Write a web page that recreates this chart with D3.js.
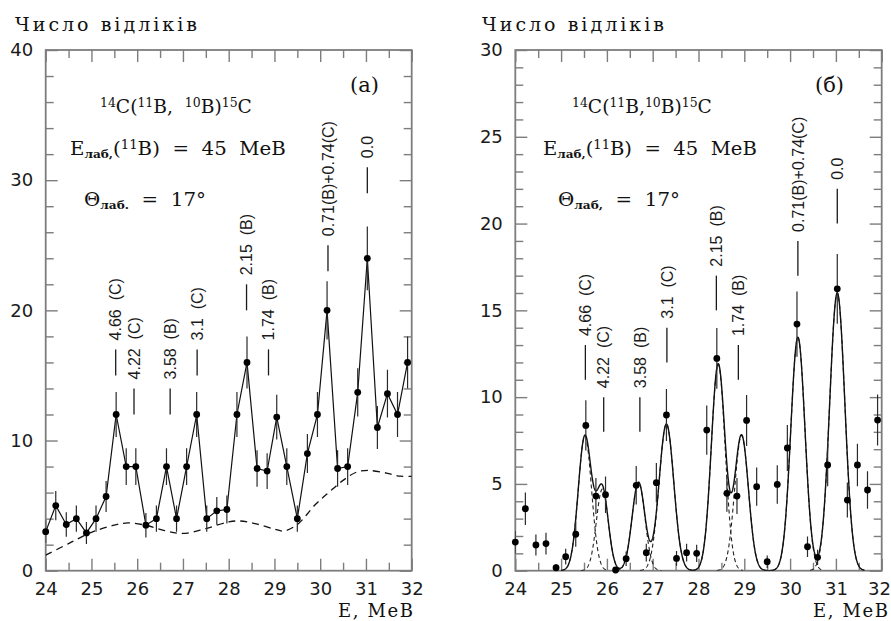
<!DOCTYPE html>
<html>
<head>
<meta charset="utf-8">
<script src="https://cdn.jsdelivr.net/npm/d3@7"></script>
<style>
  body { margin: 0; background: #fff; }
  svg { display: block; }
</style>
</head>
<body>
<svg id="chart" width="891" height="621"></svg>
<script>
// Channel energies, MeV (same binning in both spectra)
const energy = [24.0, 24.22, 24.45, 24.67, 24.89, 25.1, 25.32, 25.54, 25.76, 25.97,
  26.19, 26.42, 26.64, 26.86, 27.08, 27.3, 27.52, 27.74, 27.96, 28.18,
  28.4, 28.62, 28.84, 29.05, 29.27, 29.5, 29.72, 29.94, 30.15, 30.38,
  30.6, 30.82, 31.03, 31.25, 31.47, 31.69, 31.91];

// (a) measured counts and error half-lengths
const countsA = [3, 5, 3.55, 4, 2.9, 4, 5.7, 12, 8, 8,
  3.5, 4, 8, 4, 8, 12, 4, 4.6, 4.7, 12,
  16, 7.85, 7.65, 11.8, 8, 4, 9, 12, 20, 7.85,
  8, 13.7, 24, 11, 13.6, 12, 16];
const errA = [0.87, 1.12, 0.94, 1.0, 0.85, 1.0, 1.19, 1.73, 1.41, 1.41,
  0.94, 1.0, 1.41, 1.0, 1.41, 1.73, 1.0, 1.07, 1.08, 1.73,
  2.0, 1.4, 1.38, 1.72, 1.41, 1.0, 1.5, 1.73, 2.24, 1.4,
  1.41, 1.85, 2.45, 1.66, 1.84, 1.73, 2.0];

// (a) background estimate (dashed)
const bgEnergy = [24.0, 24.5, 25.0, 25.5, 25.8, 26.2, 26.6, 27.0, 27.5, 28.0, 28.25,
  28.6, 29.0, 29.2, 29.5, 29.9, 30.2, 30.5, 30.8, 31.05, 31.45, 31.75, 32.0];
const bgCounts = [1.2, 2.08, 2.95, 3.5, 3.67, 3.48, 3.08, 2.86, 3.24, 3.75, 3.82,
  3.6, 3.2, 3.05, 3.55, 5.1, 6.05, 6.94, 7.58, 7.7, 7.5, 7.26, 7.25];

// (б) background-subtracted counts and error half-lengths
const countsB = [1.65, 3.57, 1.48, 1.56, 0.17, 0.81, 2.1, 8.37, 4.3, 4.38,
  0.04, 0.69, 4.92, 1.04, 5.07, 8.97, 0.71, 1.04, 1.0, 8.1,
  12.23, 4.46, 4.3, 8.66, 4.84, 0.52, 4.97, 7.07, 14.21, 1.38,
  0.77, 6.09, 16.24, 4.07, 6.09, 4.65, 8.68];
const errB = [0.64, 0.94, 0.61, 0.62, 0.21, 0.45, 0.72, 1.45, 1.04, 1.05,
  0.1, 0.42, 1.11, 0.51, 1.13, 1.5, 0.42, 0.51, 0.5, 1.42,
  1.75, 1.06, 1.04, 1.47, 1.1, 0.36, 1.11, 1.33, 1.88, 0.59,
  0.44, 1.23, 2.01, 1.01, 1.23, 1.08, 1.47];

// (б) Gaussian peak fit: centre (MeV), height (counts), sigma (MeV)
const peakCenter = [25.52, 25.90, 26.69, 27.30, 28.43, 28.94, 30.17, 31.03];
const peakHeight = [7.75, 4.7, 5.1, 8.45, 11.9, 7.8, 13.45, 16.0];
const peakSigma  = [0.145, 0.13, 0.14, 0.16, 0.15, 0.15, 0.155, 0.165];

// Excitation levels of 15C / 10B marked above the peaks
const levelText = ["4.66\u00a0\u00a0(C)", "4.22\u00a0\u00a0(C)", "3.58\u00a0\u00a0(B)", "3.1\u00a0\u00a0(C)",
  "2.15\u00a0\u00a0(B)", "1.74\u00a0\u00a0(B)", "0.71(B)+0.74(C)", "0.0"];
const levelEnergy = [25.53, 25.93, 26.72, 27.31, 28.39, 28.87, 30.17, 31.03];
const levelBaseA = [15, 12, 12, 15, 20, 15, 23, 29];
const levelBaseB = [11, 8, 8, 12, 15, 11, 17, 20];

// Axis ticks
const xMajor = [24, 25, 26, 27, 28, 29, 30, 31, 32];
const xMinor = [24.5, 25.5, 26.5, 27.5, 28.5, 29.5, 30.5, 31.5];
const yMajorA = [0, 10, 20, 30, 40];
const yMajorB = [0, 5, 10, 15, 20, 25, 30];

const svg = d3.select("#chart");
const defs = svg.append("defs");
const frameColor = "#7d7d7d";

function drawAxes(g, x, y, yMajor, yMinor) {
  const [x0, x1] = x.range();
  const [y0, y1] = y.range();
  const style = sel => {
    sel.select(".domain").remove();
    sel.selectAll(".tick line").attr("stroke", frameColor).attr("stroke-width", 1.4);
    sel.selectAll(".tick text")
      .attr("fill", "#1a1a1a")
      .attr("font-family", "'DejaVu Sans', sans-serif")
      .attr("font-size", 18);
  };
  const bottom = g.append("g").attr("transform", `translate(0,${y0})`)
    .call(d3.axisBottom(x).tickValues(xMajor).tickSize(-12).tickPadding(11.5).tickFormat(d3.format("d"))).call(style);
  // keep the last label inside the page edge
  bottom.selectAll(".tick text").filter(d => x(d) + 12 > 891).attr("dx", 891 - 12 - x(32));
  g.append("g").attr("transform", `translate(0,${y0})`)
    .call(d3.axisBottom(x).tickValues(xMinor).tickSize(-8).tickFormat("")).call(style);
  g.append("g").attr("transform", `translate(0,${y1})`)
    .call(d3.axisTop(x).tickValues(xMajor).tickSize(-12).tickFormat("")).call(style);
  g.append("g").attr("transform", `translate(0,${y1})`)
    .call(d3.axisTop(x).tickValues(xMinor).tickSize(-8).tickFormat("")).call(style);
  g.append("g").attr("transform", `translate(${x0},0)`)
    .call(d3.axisLeft(y).tickValues(yMajor).tickSize(-12).tickPadding(12.5).tickFormat(d3.format("d"))).call(style);
  g.append("g").attr("transform", `translate(${x0},0)`)
    .call(d3.axisLeft(y).tickValues(yMinor).tickSize(-8).tickFormat("")).call(style);
  g.append("g").attr("transform", `translate(${x1},0)`)
    .call(d3.axisRight(y).tickValues(yMajor).tickSize(-12).tickFormat("")).call(style);
  g.append("g").attr("transform", `translate(${x1},0)`)
    .call(d3.axisRight(y).tickValues(yMinor).tickSize(-8).tickFormat("")).call(style);
  g.append("rect")
    .attr("x", x0).attr("y", y1).attr("width", x1 - x0).attr("height", y0 - y1)
    .attr("fill", "none").attr("stroke", frameColor).attr("stroke-width", 1.8);
}

function addClip(id, x, y) {
  const [x0, x1] = x.range();
  const [y0, y1] = y.range();
  defs.append("clipPath").attr("id", id).append("rect")
    .attr("x", x0).attr("y", y1).attr("width", x1 - x0).attr("height", y0 - y1);
}

function drawPoints(g, x, y, vals, errs, clipId) {
  g.append("g").attr("clip-path", `url(#${clipId})`)
    .selectAll("line").data(vals).join("line")
    .attr("x1", (d, i) => x(energy[i])).attr("x2", (d, i) => x(energy[i]))
    .attr("y1", (d, i) => y(d - errs[i])).attr("y2", (d, i) => y(d + errs[i]))
    .attr("stroke", "#2a2a2a").attr("stroke-width", 1.2);
  g.append("g").selectAll("circle").data(vals).join("circle")
    .attr("cx", (d, i) => x(energy[i])).attr("cy", d => y(d))
    .attr("r", 3.4).attr("fill", "#000");
}

function drawLevels(g, x, y, bases) {
  levelText.forEach((t, i) => {
    const px = x(levelEnergy[i]);
    g.append("line")
      .attr("x1", px).attr("x2", px)
      .attr("y1", y(bases[i])).attr("y2", y(bases[i] + 2))
      .attr("stroke", "#1a1a1a").attr("stroke-width", 1.3);
    const ty = y(bases[i] + 2) - 9;
    g.append("text")
      .attr("transform", `translate(${px},${ty}) rotate(-90)`)
      .attr("dy", "0.36em")
      .attr("font-family", "'Liberation Sans', Arial, sans-serif")
      .attr("font-size", 16)
      .attr("fill", "#1a1a1a")
      .text(t);
  });
}

// Stretch a text line horizontally so that it starts at x0 and spans width w
function fitLine(text, x0, w) {
  const bb = text.node().getBBox();
  const k = w / bb.width;
  text.attr("transform", `translate(${x0},0) scale(${k},1) translate(${-bb.x},0)`);
}

function spaced(g, str, x0, w, yBase, size) {
  const t = g.append("text")
    .attr("x", 0).attr("y", yBase)
    .attr("font-family", "'DejaVu Serif', serif")
    .attr("font-size", size).attr("fill", "#111")
    .text(str);
  const n = str.length;
  const natural = t.node().getComputedTextLength();
  t.attr("letter-spacing", (w - natural) / (n - 1));
  const bb = t.node().getBBox();
  t.attr("transform", `translate(${x0 - bb.x},0)`);
  return t;
}

function reactionLine(g, x0, w, yBase, gap) {
  const t = g.append("text").attr("y", yBase)
    .attr("font-family", "'DejaVu Serif', serif").attr("font-size", 18).attr("fill", "#111");
  const sup = s => t.append("tspan").attr("font-size", 12).attr("dy", -6).text(s);
  const main = s => t.append("tspan").attr("font-size", 18).attr("dy", 6).text(s);
  sup("14"); main("C(");
  sup("11"); main("B," + gap);
  sup("10"); main("B)");
  sup("15"); main("C");
  fitLine(t, x0, w);
}

function energyLine(g, x0, w, yBase, sub) {
  const t = g.append("text").attr("y", yBase)
    .attr("font-family", "'DejaVu Serif', serif").attr("font-size", 18).attr("fill", "#111");
  t.append("tspan").text("E");
  t.append("tspan").attr("font-size", 11).attr("font-weight", "bold").attr("dy", 3).text(sub);
  t.append("tspan").attr("dy", -3).text("(");
  t.append("tspan").attr("font-size", 12).attr("dy", -6).text("11");
  t.append("tspan").attr("dy", 6).text("B)\u00a0\u00a0=\u00a0\u00a045\u00a0\u00a0MeB");
  fitLine(t, x0, w);
}

function angleLine(g, x0, w, yBase, sub) {
  const t = g.append("text").attr("y", yBase)
    .attr("font-family", "'DejaVu Serif', serif").attr("font-size", 18).attr("fill", "#111");
  t.append("tspan").text("\u0398");
  t.append("tspan").attr("font-size", 11).attr("font-weight", "bold").attr("dy", 3).text(sub);
  t.append("tspan").attr("dy", -3).text("\u00a0\u00a0=\u00a0\u00a017\u00b0");
  fitLine(t, x0, w);
}

// ---------- Panel (a) ----------
const xA = d3.scaleLinear().domain([24, 32]).range([45.7, 411.7]);
const yA = d3.scaleLinear().domain([0, 40]).range([570.7, 50]);
const gA = svg.append("g");
addClip("clipA", xA, yA);
drawAxes(gA, xA, yA, yMajorA, d3.range(0, 40, 2).filter(v => v % 10 !== 0));

gA.append("path")
  .datum(bgEnergy.map((e, i) => [e, bgCounts[i]]))
  .attr("clip-path", "url(#clipA)")
  .attr("d", d3.line().x(d => xA(d[0])).y(d => yA(d[1])).curve(d3.curveCatmullRom.alpha(0.5)))
  .attr("fill", "none").attr("stroke", "#111").attr("stroke-width", 1.3)
  .attr("stroke-dasharray", "7,5");

gA.append("path")
  .datum(energy.map((e, i) => [e, countsA[i]]))
  .attr("d", d3.line().x(d => xA(d[0])).y(d => yA(d[1])))
  .attr("fill", "none").attr("stroke", "#111").attr("stroke-width", 1.2);

drawPoints(gA, xA, yA, countsA, errA, "clipA");
drawLevels(gA, xA, yA, levelBaseA);

reactionLine(gA, 100, 152, 113, "\u00a0\u00a0");
energyLine(gA, 70, 216, 155, "\u043b\u0430\u0431,");
angleLine(gA, 84, 122, 206, "\u043b\u0430\u0431.");
gA.append("text").attr("x", 350).attr("y", 92)
  .attr("font-family", "'DejaVu Serif', serif").attr("font-size", 21).attr("fill", "#111")
  .text("(a)");
spaced(gA, "\u0427\u0438\u0441\u043b\u043e \u0432\u0456\u0434\u043b\u0456\u043a\u0456\u0432", 15, 182, 31, 19);
spaced(gA, "E, MeB", 338, 75, 617, 18);

// ---------- Panel (б) ----------
const xB = d3.scaleLinear().domain([24, 32]).range([515.3, 881.7]);
const yB = d3.scaleLinear().domain([0, 30]).range([570.7, 50]);
const gB = svg.append("g");
addClip("clipB", xB, yB);
drawAxes(gB, xB, yB, yMajorB, d3.range(0, 30, 1).filter(v => v % 5 !== 0));

const gauss = (e, i) => peakHeight[i] * Math.exp(-0.5 * Math.pow((e - peakCenter[i]) / peakSigma[i], 2));

// individual components (dashed)
peakCenter.forEach((c, i) => {
  const lo = c - 3.6 * peakSigma[i], hi = c + 3.6 * peakSigma[i];
  const pts = d3.range(lo, hi + 1e-9, 0.005).map(e => [e, gauss(e, i)]);
  gB.append("path").datum(pts)
    .attr("clip-path", "url(#clipB)")
    .attr("d", d3.line().x(d => xB(d[0])).y(d => yB(d[1])))
    .attr("fill", "none").attr("stroke", "#222").attr("stroke-width", 1.1)
    .attr("stroke-dasharray", "4,3");
});

// total fit (solid)
{
  const lo = d3.min(peakCenter, (c, i) => c - 3.6 * peakSigma[i]);
  const hi = d3.max(peakCenter, (c, i) => c + 3.6 * peakSigma[i]);
  const pts = d3.range(lo, hi + 1e-9, 0.005).map(e => [e, d3.sum(peakCenter, (c, i) => gauss(e, i))]);
  gB.append("path").datum(pts)
    .attr("clip-path", "url(#clipB)")
    .attr("d", d3.line().x(d => xB(d[0])).y(d => yB(d[1])))
    .attr("fill", "none").attr("stroke", "#111").attr("stroke-width", 1.4);
}

drawPoints(gB, xB, yB, countsB, errB, "clipB");
drawLevels(gB, xB, yB, levelBaseB);

reactionLine(gB, 572, 140, 113, "");
energyLine(gB, 543, 214, 155, "\u043b\u0430\u0431,");
angleLine(gB, 558, 122, 206, "\u043b\u0430\u0431,");
gB.append("text").attr("x", 815).attr("y", 92)
  .attr("font-family", "'DejaVu Serif', serif").attr("font-size", 21).attr("fill", "#111")
  .text("(\u0431)");
spaced(gB, "\u0427\u0438\u0441\u043b\u043e \u0432\u0456\u0434\u043b\u0456\u043a\u0456\u0432", 482, 182, 31, 19);
spaced(gB, "E, MeB", 813, 75, 617, 18);
</script>
</body>
</html>
